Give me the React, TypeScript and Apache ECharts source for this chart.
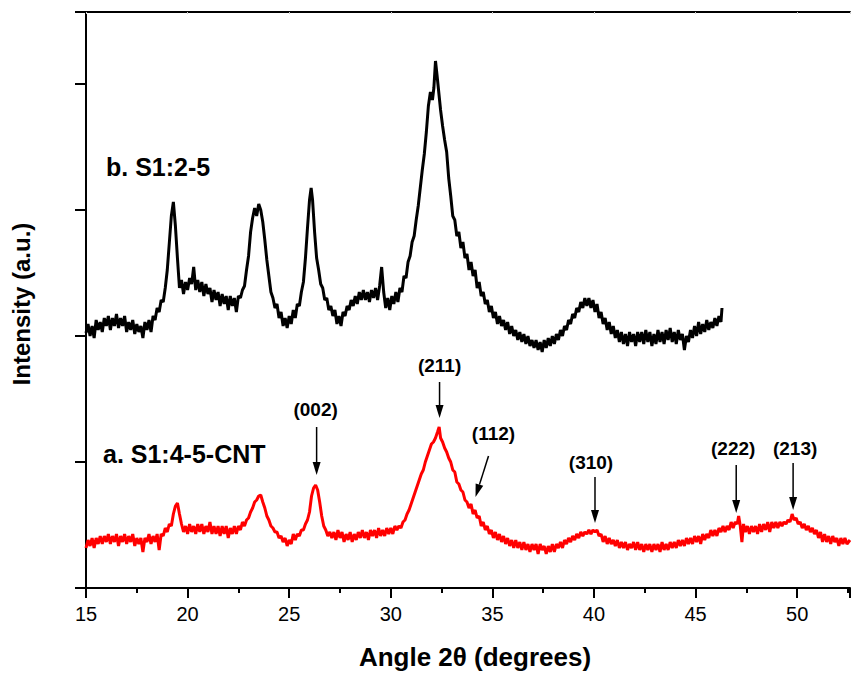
import React, { useEffect, useRef } from "react";
import * as echarts from "echarts";

// Pattern b (S1:2-5): [2θ, intensity a.u.]
const patternB: [number, number][] = [
  [15.0, 255], [15.1, 264], [15.2, 252], [15.3, 262], [15.4, 250], [15.5, 268], [15.6, 258], [15.7, 266],
  [15.8, 256], [15.9, 270], [16.0, 262], [16.1, 272], [16.2, 258], [16.3, 270], [16.4, 262], [16.5, 274],
  [16.6, 260], [16.7, 270], [16.8, 262], [16.9, 272], [17.0, 256], [17.1, 266], [17.2, 258], [17.3, 268],
  [17.4, 254], [17.5, 264], [17.6, 256], [17.7, 262], [17.8, 250], [17.9, 266], [18.0, 258], [18.1, 268],
  [18.2, 256], [18.3, 272], [18.4, 268], [18.5, 280], [18.6, 276], [18.7, 288], [18.8, 286], [18.9, 300],
  [19.0, 318], [19.1, 345], [19.2, 372], [19.3, 386], [19.4, 362], [19.5, 330], [19.6, 300], [19.7, 308],
  [19.8, 294], [19.9, 306], [20.0, 298], [20.1, 310], [20.2, 304], [20.3, 321], [20.4, 298], [20.5, 308],
  [20.6, 296], [20.7, 306], [20.8, 292], [20.9, 304], [21.0, 294], [21.1, 300], [21.2, 286], [21.3, 298],
  [21.4, 288], [21.5, 296], [21.6, 282], [21.7, 294], [21.8, 284], [21.9, 292], [22.0, 278], [22.1, 292],
  [22.2, 282], [22.3, 290], [22.4, 276], [22.5, 292], [22.6, 290], [22.7, 298], [22.8, 302], [22.9, 318],
  [23.0, 332], [23.1, 356], [23.2, 370], [23.3, 380], [23.4, 372], [23.5, 384], [23.6, 378], [23.7, 366],
  [23.8, 348], [23.9, 328], [24.0, 312], [24.1, 296], [24.2, 290], [24.3, 280], [24.4, 284], [24.5, 270],
  [24.6, 276], [24.7, 262], [24.8, 270], [24.9, 260], [25.0, 272], [25.1, 264], [25.2, 278], [25.3, 270],
  [25.4, 284], [25.5, 282], [25.6, 296], [25.7, 306], [25.8, 330], [25.9, 360], [26.0, 388], [26.08, 400],
  [26.15, 388], [26.25, 356], [26.35, 330], [26.45, 318], [26.55, 304], [26.65, 300], [26.75, 288], [26.85, 290],
  [26.95, 278], [27.05, 282], [27.15, 272], [27.25, 278], [27.35, 264], [27.45, 272], [27.55, 262], [27.65, 276],
  [27.75, 272], [27.85, 282], [27.95, 278], [28.05, 288], [28.15, 282], [28.25, 292], [28.35, 284], [28.45, 296],
  [28.55, 288], [28.65, 298], [28.75, 288], [28.85, 296], [28.95, 286], [29.05, 298], [29.15, 290], [29.25, 300],
  [29.35, 288], [29.45, 302], [29.55, 321], [29.65, 296], [29.75, 280], [29.85, 290], [29.95, 278], [30.05, 292],
  [30.15, 284], [30.25, 296], [30.35, 286], [30.45, 300], [30.55, 296], [30.65, 312], [30.75, 310], [30.85, 326],
  [30.95, 332], [31.05, 346], [31.15, 352], [31.25, 368], [31.35, 382], [31.45, 400], [31.55, 418], [31.65, 434],
  [31.75, 456], [31.85, 482], [31.95, 496], [32.05, 488], [32.12, 500], [32.2, 527], [32.28, 512], [32.36, 496],
  [32.45, 478], [32.55, 462], [32.65, 448], [32.75, 436], [32.85, 410], [32.95, 392], [33.05, 372], [33.15, 368],
  [33.25, 352], [33.35, 356], [33.45, 340], [33.55, 346], [33.65, 330], [33.75, 334], [33.85, 318], [33.95, 326],
  [34.05, 312], [34.15, 318], [34.25, 300], [34.35, 306], [34.45, 292], [34.55, 296], [34.65, 284], [34.75, 288],
  [34.85, 276], [34.95, 282], [35.05, 270], [35.15, 276], [35.25, 264], [35.35, 272], [35.45, 262], [35.55, 268],
  [35.65, 258], [35.75, 266], [35.85, 254], [35.95, 262], [36.05, 252], [36.15, 258], [36.25, 248], [36.35, 256],
  [36.45, 246], [36.55, 254], [36.65, 244], [36.75, 252], [36.85, 242], [36.95, 248], [37.05, 240], [37.15, 248],
  [37.25, 238], [37.35, 246], [37.45, 236], [37.55, 248], [37.65, 240], [37.75, 250], [37.85, 242], [37.95, 252],
  [38.05, 244], [38.15, 254], [38.25, 248], [38.35, 258], [38.45, 252], [38.55, 262], [38.65, 258], [38.75, 268],
  [38.85, 264], [38.95, 274], [39.05, 270], [39.15, 280], [39.25, 276], [39.35, 286], [39.45, 280], [39.55, 290],
  [39.65, 282], [39.75, 290], [39.85, 280], [39.95, 288], [40.05, 276], [40.15, 284], [40.25, 270], [40.35, 276],
  [40.45, 264], [40.55, 270], [40.65, 258], [40.75, 266], [40.85, 254], [40.95, 262], [41.05, 250], [41.15, 258],
  [41.25, 246], [41.35, 256], [41.45, 244], [41.55, 254], [41.65, 242], [41.75, 256], [41.85, 246], [41.95, 254],
  [42.05, 242], [42.15, 256], [42.25, 246], [42.35, 256], [42.45, 244], [42.55, 258], [42.65, 246], [42.75, 256],
  [42.85, 242], [42.95, 254], [43.05, 244], [43.15, 258], [43.25, 246], [43.35, 256], [43.45, 244], [43.55, 258],
  [43.65, 248], [43.75, 260], [43.85, 246], [43.95, 256], [44.05, 244], [44.15, 258], [44.25, 248], [44.35, 254],
  [44.45, 238], [44.55, 252], [44.65, 246], [44.75, 258], [44.85, 250], [44.95, 262], [45.05, 252], [45.15, 266],
  [45.25, 254], [45.35, 264], [45.45, 256], [45.55, 268], [45.65, 258], [45.75, 266], [45.85, 260], [45.95, 270],
  [46.05, 262], [46.15, 272], [46.25, 266], [46.3, 280],
];

// Pattern a (S1:4-5-CNT): [2θ, intensity a.u.]
const patternA: [number, number][] = [
  [15.0, 40], [15.1, 48], [15.2, 42], [15.3, 50], [15.4, 40], [15.5, 50], [15.6, 44], [15.7, 52],
  [15.8, 44], [15.9, 52], [16.0, 46], [16.1, 54], [16.2, 44], [16.3, 52], [16.4, 46], [16.5, 54],
  [16.6, 42], [16.7, 52], [16.8, 46], [16.9, 54], [17.0, 44], [17.1, 52], [17.2, 46], [17.3, 54],
  [17.4, 42], [17.5, 50], [17.6, 44], [17.7, 50], [17.8, 36], [17.9, 50], [18.0, 46], [18.1, 54],
  [18.2, 44], [18.3, 52], [18.4, 46], [18.5, 54], [18.6, 38], [18.7, 54], [18.8, 52], [18.9, 60],
  [19.0, 56], [19.1, 64], [19.2, 62], [19.3, 74], [19.4, 82], [19.5, 85], [19.6, 74], [19.7, 64],
  [19.8, 56], [19.9, 62], [20.0, 54], [20.1, 64], [20.2, 56], [20.3, 62], [20.4, 54], [20.5, 64],
  [20.6, 56], [20.7, 64], [20.8, 54], [20.9, 62], [21.0, 56], [21.1, 66], [21.2, 54], [21.3, 62],
  [21.4, 54], [21.5, 62], [21.6, 52], [21.7, 62], [21.8, 54], [21.9, 62], [22.0, 50], [22.1, 60],
  [22.2, 54], [22.3, 62], [22.4, 54], [22.5, 62], [22.6, 58], [22.7, 66], [22.8, 62], [22.9, 68],
  [23.0, 70], [23.1, 76], [23.2, 80], [23.3, 86], [23.4, 88], [23.5, 92], [23.6, 93], [23.7, 86],
  [23.8, 80], [23.9, 72], [24.0, 68], [24.1, 62], [24.2, 60], [24.3, 56], [24.4, 56], [24.5, 50],
  [24.6, 52], [24.7, 46], [24.8, 50], [24.9, 42], [25.0, 48], [25.1, 44], [25.2, 54], [25.3, 48],
  [25.4, 54], [25.5, 52], [25.6, 58], [25.7, 58], [25.8, 64], [25.9, 68], [26.0, 76], [26.1, 92],
  [26.2, 100], [26.3, 103], [26.4, 98], [26.5, 86], [26.6, 72], [26.7, 62], [26.8, 58], [26.9, 52],
  [27.0, 56], [27.1, 50], [27.2, 56], [27.3, 48], [27.4, 58], [27.5, 50], [27.6, 56], [27.7, 46],
  [27.8, 54], [27.9, 48], [28.0, 56], [28.1, 46], [28.2, 54], [28.3, 48], [28.4, 56], [28.5, 50],
  [28.6, 58], [28.7, 50], [28.8, 56], [28.9, 48], [29.0, 58], [29.1, 52], [29.2, 58], [29.3, 50],
  [29.4, 60], [29.5, 52], [29.6, 58], [29.7, 52], [29.8, 60], [29.9, 54], [30.0, 60], [30.1, 54],
  [30.2, 62], [30.3, 58], [30.4, 62], [30.5, 60], [30.6, 66], [30.7, 68], [30.8, 74], [30.9, 78],
  [31.0, 84], [31.1, 90], [31.2, 96], [31.3, 102], [31.4, 108], [31.5, 114], [31.6, 118], [31.7, 126],
  [31.8, 132], [31.9, 138], [32.0, 144], [32.1, 146], [32.2, 150], [32.3, 156], [32.38, 161], [32.45, 150],
  [32.55, 146], [32.65, 140], [32.75, 136], [32.85, 130], [32.95, 126], [33.05, 118], [33.15, 116], [33.25, 106],
  [33.35, 104], [33.45, 98], [33.55, 96], [33.65, 88], [33.75, 86], [33.85, 80], [33.95, 84], [34.05, 74],
  [34.15, 78], [34.25, 70], [34.35, 72], [34.45, 62], [34.55, 66], [34.65, 58], [34.75, 62], [34.85, 54],
  [34.95, 58], [35.05, 50], [35.15, 56], [35.25, 48], [35.35, 54], [35.45, 46], [35.55, 52], [35.65, 44],
  [35.75, 50], [35.85, 42], [35.95, 48], [36.05, 40], [36.15, 48], [36.25, 40], [36.35, 46], [36.45, 38],
  [36.55, 46], [36.65, 38], [36.75, 44], [36.85, 36], [36.95, 44], [37.05, 38], [37.15, 44], [37.25, 34],
  [37.35, 44], [37.45, 38], [37.55, 42], [37.65, 34], [37.75, 42], [37.85, 36], [37.95, 44], [38.05, 36],
  [38.15, 44], [38.25, 40], [38.35, 46], [38.45, 40], [38.55, 48], [38.65, 44], [38.75, 50], [38.85, 46],
  [38.95, 52], [39.05, 48], [39.15, 54], [39.25, 50], [39.35, 56], [39.45, 52], [39.55, 56], [39.65, 54],
  [39.75, 58], [39.85, 54], [39.95, 58], [40.05, 56], [40.15, 58], [40.25, 52], [40.35, 54], [40.45, 46],
  [40.55, 52], [40.65, 44], [40.75, 50], [40.85, 44], [40.95, 48], [41.05, 42], [41.15, 48], [41.25, 40],
  [41.35, 46], [41.45, 40], [41.55, 46], [41.65, 38], [41.75, 44], [41.85, 40], [41.95, 46], [42.05, 38],
  [42.15, 46], [42.25, 38], [42.35, 44], [42.45, 36], [42.55, 44], [42.65, 38], [42.75, 44], [42.85, 36],
  [42.95, 44], [43.05, 38], [43.15, 44], [43.25, 36], [43.35, 46], [43.45, 38], [43.55, 44], [43.65, 38],
  [43.75, 46], [43.85, 40], [43.95, 46], [44.05, 40], [44.15, 48], [44.25, 42], [44.35, 48], [44.45, 42],
  [44.55, 50], [44.65, 44], [44.75, 50], [44.85, 44], [44.95, 52], [45.05, 46], [45.15, 52], [45.25, 44],
  [45.35, 54], [45.45, 48], [45.55, 54], [45.65, 50], [45.75, 58], [45.85, 52], [45.95, 58], [46.05, 52],
  [46.15, 60], [46.25, 56], [46.35, 62], [46.45, 56], [46.55, 62], [46.65, 58], [46.75, 66], [46.85, 60],
  [46.95, 66], [47.05, 64], [47.12, 72], [47.2, 62], [47.28, 46], [47.36, 64], [47.45, 56], [47.55, 62],
  [47.65, 54], [47.75, 62], [47.85, 56], [47.95, 62], [48.05, 54], [48.15, 64], [48.25, 56], [48.35, 64],
  [48.45, 58], [48.55, 66], [48.65, 56], [48.75, 66], [48.85, 60], [48.95, 66], [49.05, 60], [49.15, 66],
  [49.25, 62], [49.35, 66], [49.45, 64], [49.55, 68], [49.65, 66], [49.75, 74], [49.85, 68], [49.95, 70],
  [50.05, 64], [50.15, 66], [50.25, 60], [50.35, 64], [50.45, 58], [50.55, 62], [50.65, 56], [50.75, 60],
  [50.85, 54], [50.95, 58], [51.05, 50], [51.15, 56], [51.25, 46], [51.35, 54], [51.45, 46], [51.55, 52],
  [51.65, 44], [51.75, 52], [51.85, 46], [51.95, 50], [52.05, 42], [52.15, 50], [52.25, 44], [52.35, 50],
  [52.45, 44], [52.6, 48],
];

// Peak annotations (Miller indices)
const peakLabels = ["(002)", "(211)", "(112)", "(310)", "(222)", "(213)"];
const peakAngles = [26.35, 32.4, 34.17, 40.05, 47.0, 49.8];
const peakTipIntensity = [113, 170, 91, 65, 75, 78];

const sampleLabels = ["b. S1:2-5", "a. S1:4-5-CNT"];
const xTickValues = [15, 20, 25, 30, 35, 40, 45, 50];

// arrow geometry (pixels): tail offset from tip, label offset from tail
const arrowTail = [
  [0, -48], [0, -36], [13, -41], [0, -46], [0, -48], [0, -47],
];
const labelOffset = [
  [-1, -18], [0, -17], [5, -23], [-4, -15], [-3, -17], [2, -15],
];

export default function App() {
  const ref = useRef<HTMLDivElement>(null);
  useEffect(() => {
    if (!ref.current) return;
    const chart = echarts.init(ref.current, undefined, { renderer: "svg" });
    const font = "Liberation Sans, Arial, Helvetica, sans-serif";
    chart.setOption({
      animation: false,
      backgroundColor: "#ffffff",
      grid: { left: 86, top: 12, right: 0, bottom: 87, containLabel: false },
      xAxis: [
        {
          type: "value",
          min: 15,
          max: 52.6,
          interval: 5,
          axisLine: { show: true, lineStyle: { color: "#000", width: 2 } },
          axisTick: { show: true, inside: false, length: 10, lineStyle: { color: "#000", width: 2 } },
          minorTick: { show: true, splitNumber: 2, length: 5, lineStyle: { color: "#000", width: 2 } },
          splitLine: { show: false },
          axisLabel: {
            show: true,
            margin: 16,
            color: "#000",
            fontSize: 20,
            fontFamily: font,
            formatter: (v: number) => (xTickValues.includes(v) ? String(v) : ""),
          },
        },
        {
          type: "value",
          position: "top",
          min: 15,
          max: 52.6,
          interval: 5,
          axisLine: { show: true, onZero: false, lineStyle: { color: "#000", width: 2 } },
          axisTick: { show: true, inside: true, length: 2, lineStyle: { color: "#ccc", width: 1 } },
          axisLabel: { show: false },
          splitLine: { show: false },
        },
      ],
      yAxis: {
        type: "value",
        min: 0,
        max: 576,
        interval: 126,
        axisLine: { show: true, lineStyle: { color: "#000", width: 2 } },
        axisTick: { show: true, inside: false, length: 11, lineStyle: { color: "#000", width: 2 } },
        axisLabel: { show: false },
        splitLine: { show: false },
      },
      series: [
        {
          name: sampleLabels[0],
          type: "line",
          data: patternB,
          showSymbol: false,
          lineStyle: { color: "#000000", width: 3 },
          itemStyle: { color: "#000000" },
        },
        {
          name: sampleLabels[1],
          type: "line",
          data: patternA,
          showSymbol: false,
          lineStyle: { color: "#ff0000", width: 3 },
          itemStyle: { color: "#ff0000" },
        },
      ],
    });

    const graphics: any[] = [];
    peakLabels.forEach((lab, i) => {
      const tip = chart.convertToPixel({ gridIndex: 0 }, [peakAngles[i], peakTipIntensity[i]]) as number[];
      const tx = tip[0];
      const ty = tip[1];
      const sx = tx + arrowTail[i][0];
      const sy = ty + arrowTail[i][1];
      const dx = tx - sx;
      const dy = ty - sy;
      const len = Math.sqrt(dx * dx + dy * dy);
      const ux = dx / len;
      const uy = dy / len;
      const headLen = 13;
      const halfW = 4;
      const bx = tx - ux * headLen;
      const by = ty - uy * headLen;
      graphics.push({
        type: "line",
        shape: { x1: sx, y1: sy, x2: bx, y2: by },
        style: { stroke: "#000", lineWidth: 1.5 },
        z: 100,
      });
      graphics.push({
        type: "polygon",
        shape: {
          points: [
            [tx, ty],
            [bx - uy * halfW, by + ux * halfW],
            [bx + uy * halfW, by - ux * halfW],
          ],
        },
        style: { fill: "#000" },
        z: 100,
      });
      graphics.push({
        type: "text",
        x: sx + labelOffset[i][0],
        y: sy + labelOffset[i][1],
        style: {
          text: lab,
          fill: "#000",
          font: `bold 19px ${font}`,
          textAlign: "center",
          textVerticalAlign: "middle",
        },
        z: 100,
      });
    });
    graphics.push({
      type: "text",
      x: 106,
      y: 167,
      style: {
        text: sampleLabels[0],
        fill: "#000",
        font: `bold 25px ${font}`,
        textAlign: "left",
        textVerticalAlign: "middle",
      },
    });
    graphics.push({
      type: "text",
      x: 103,
      y: 454,
      style: {
        text: sampleLabels[1],
        fill: "#000",
        font: `bold 25px ${font}`,
        textAlign: "left",
        textVerticalAlign: "middle",
      },
    });
    graphics.push({
      type: "text",
      x: 475,
      y: 657,
      style: {
        text: "Angle 2θ (degrees)",
        fill: "#000",
        font: `bold 26px ${font}`,
        textAlign: "center",
        textVerticalAlign: "middle",
      },
    });
    graphics.push({
      type: "text",
      x: 21,
      y: 304,
      rotation: Math.PI / 2,
      style: {
        text: "Intensity (a.u.)",
        fill: "#000",
        font: `bold 24px ${font}`,
        textAlign: "center",
        textVerticalAlign: "middle",
      },
    });
    chart.setOption({ graphic: graphics });

    return () => chart.dispose();
  }, []);
  return (
    <div
      ref={ref}
      style={{ position: "fixed", left: 0, top: 0, width: 853, height: 675, background: "#fff" }}
    />
  );
}
